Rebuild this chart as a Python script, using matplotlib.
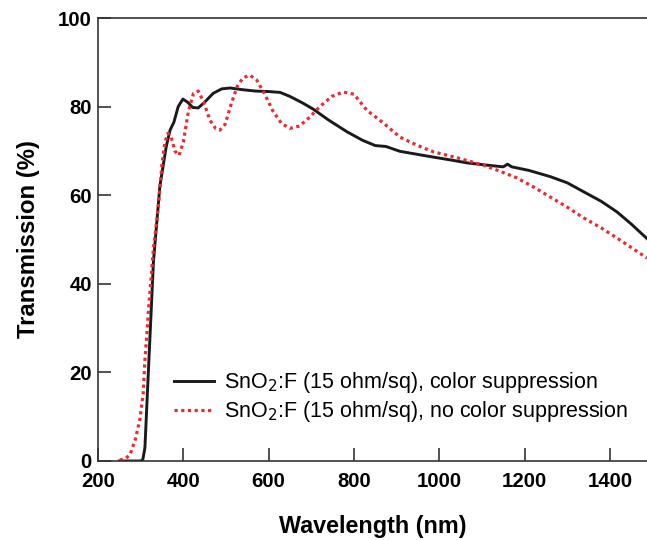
import matplotlib
matplotlib.use("Agg")
import matplotlib.pyplot as plt

# Color suppression (black solid)
wl_cs = [250, 290, 300, 305, 310, 318, 330, 345, 360, 369, 378, 388, 399, 410, 422, 435,
         450, 470, 490, 510, 540, 570, 600, 627, 650, 680, 705, 740, 784, 820, 850, 875,
         908, 950, 986, 1030, 1065, 1110, 1150, 1160, 1170, 1210, 1260, 1300, 1338, 1380,
         1417, 1450, 1487]
t_cs = [0, 0, 0, 0.3, 3, 20, 45, 62, 71, 74.7, 76.5, 80, 81.7, 81, 79.8, 79.7,
        81, 83, 84, 84.2, 83.8, 83.5, 83.4, 83.2, 82.3, 80.8, 79.4, 77, 74.3, 72.4, 71.2, 71,
        69.9, 69.2, 68.6, 67.9, 67.3, 66.8, 66.4, 67, 66.4, 65.6, 64.2, 62.8, 60.8, 58.6,
        56.2, 53.5, 50.2]

# No color suppression (red dotted)
wl_ncs = [251, 265, 275, 287, 298, 306, 310, 320, 330, 341, 350, 357, 364, 372, 380, 390,
          400, 412, 424, 435, 448, 462, 476, 486, 498, 512, 526, 540, 556, 572, 590, 610,
          630, 650, 672, 695, 720, 748, 775, 800, 830, 869, 908, 950, 986, 1040, 1103,
          1140, 1182, 1220, 1260, 1300, 1338, 1380, 1417, 1450, 1487]
t_ncs = [0.2, 0.6, 1.4, 4.7, 9.3, 15.3, 22.8, 36, 48, 57, 67, 72, 74, 73, 70, 69,
         72, 79, 83, 83.5, 81, 77, 75, 74.7, 76, 80.5, 84.5, 86.5, 87.1, 86, 83, 79,
         76.2, 75.1, 75.6, 77.5, 80, 82.3, 83.3, 82.8, 79.2, 76.3, 73.1, 71.2, 69.8, 68.5, 66.8,
         65.5, 63.9, 61.9, 59.6, 57.3, 54.9, 52.6, 50.3, 48.2, 45.8]

x_ticks = [200, 400, 600, 800, 1000, 1200, 1400]
y_ticks = [0, 20, 40, 60, 80, 100]

plt.rcParams['font.family'] = ['Liberation Sans', 'DejaVu Sans']

fig = plt.figure(figsize=(6.47, 5.40), dpi=100)
ax = fig.add_axes([98/647, 79/540, 1 - 98/647, 443/540])

ax.plot(wl_cs, t_cs, color='#1a1a1a', lw=2.1, solid_joinstyle='round',
        label=r'SnO$_2$:F (15 ohm/sq), color suppression')
ax.plot(wl_ncs, t_ncs, color='#ee2a2e', lw=2.3, linestyle=(0, (1, 1.1)),
        label=r'SnO$_2$:F (15 ohm/sq), no color suppression')

ax.set_xlim(200, 1487)
ax.set_ylim(0, 100)
ax.set_xticks(x_ticks)
ax.set_yticks(y_ticks)
ax.tick_params(direction='in', length=9.5, width=1.2, color='#333333', labelsize=14.7)
ax.tick_params(axis='x', pad=8)
ax.tick_params(axis='y', pad=4.5)
for lab in ax.get_xticklabels() + ax.get_yticklabels():
    lab.set_fontweight('bold')
for s in ['left', 'bottom', 'top']:
    ax.spines[s].set_color('#333333')
    ax.spines[s].set_linewidth(1.2)
ax.spines['right'].set_visible(False)

ax.set_xlabel('Wavelength (nm)', fontsize=16.8, fontweight='bold', labelpad=17)
ax.set_ylabel('Transmission (%)', fontsize=17.2, fontweight='bold', labelpad=13)

leg = ax.legend(loc='lower left', bbox_to_anchor=(0.123, 0.063), frameon=False,
                fontsize=15.5, handlelength=1.86, handletextpad=0.47, labelspacing=0.2,
                borderaxespad=0)

fig.savefig('out.png', dpi=100)
